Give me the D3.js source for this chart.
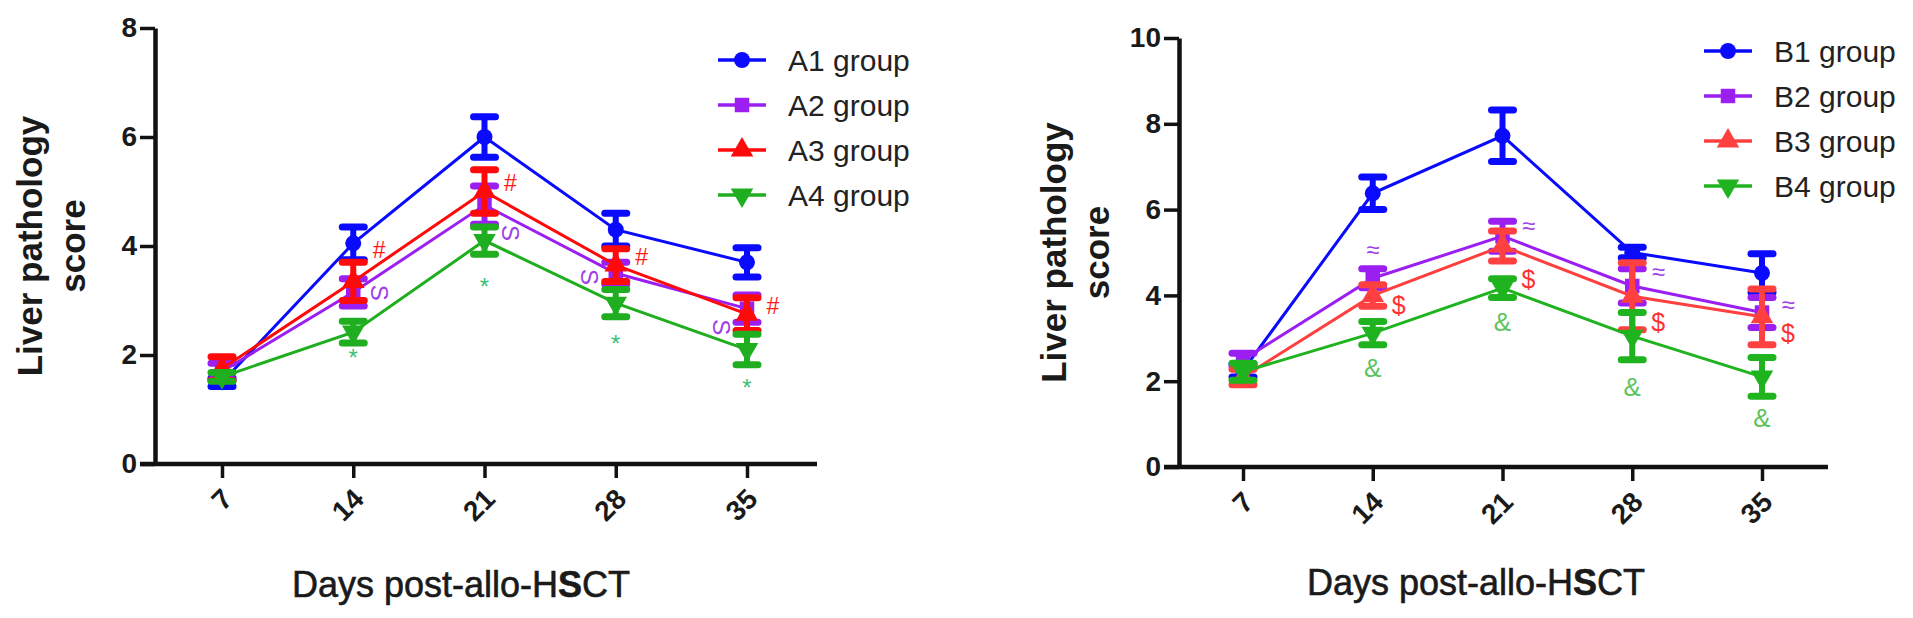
<!DOCTYPE html>
<html>
<head>
<meta charset="utf-8">
<script src="https://cdn.jsdelivr.net/npm/d3@7"></script>
<style>
  body { margin: 0; background: #fff; }
  svg text { font-family: "Liberation Sans", Arial, sans-serif; }
</style>
</head>
<body>
<svg id="fig" width="1913" height="618"></svg>
<script>
// dados
const dias = [7, 14, 21, 28, 35];

const gruposA = ["A1 group", "A2 group", "A3 group", "A4 group"];
const mediaA1 = [1.50, 4.05, 6.00, 4.30, 3.70];
const mediaA2 = [1.70, 3.15, 4.75, 3.50, 2.85];
const mediaA3 = [1.75, 3.35, 5.00, 3.65, 2.75];
const mediaA4 = [1.60, 2.42, 4.10, 2.95, 2.10];
const erroA1 = [0.08, 0.30, 0.37, 0.30, 0.27];
const erroA2 = [0.15, 0.25, 0.35, 0.20, 0.25];
const erroA3 = [0.22, 0.35, 0.40, 0.30, 0.30];
const erroA4 = [0.08, 0.20, 0.25, 0.25, 0.28];

const gruposB = ["B1 group", "B2 group", "B3 group", "B4 group"];
const mediaB1 = [2.25, 6.38, 7.72, 5.00, 4.52];
const mediaB2 = [2.50, 4.40, 5.38, 4.22, 3.60];
const mediaB3 = [2.10, 4.00, 5.15, 3.98, 3.50];
const mediaB4 = [2.22, 3.12, 4.17, 3.05, 2.10];
const erroB1 = [0.15, 0.38, 0.60, 0.12, 0.45];
const erroB2 = [0.15, 0.22, 0.35, 0.40, 0.35];
const erroB3 = [0.18, 0.25, 0.35, 0.78, 0.65];
const erroB4 = [0.20, 0.27, 0.22, 0.55, 0.45];

const ticksA = [0, 2, 4, 6, 8];
const ticksB = [0, 2, 4, 6, 8, 10];

// marcas de significancia: dia, valor (posicao no eixo y), lado (-1 esq, 0 centro, 1 dir)
const marcasA = [
  { simbolo: "#", grupo: 2, dia: [14, 21, 28, 35], valor: [3.93, 5.16, 3.80, 2.90], lado: [1, 1, 1, 1] },
  { simbolo: "S", grupo: 1, dia: [14, 21, 28, 35], valor: [3.14, 4.24, 3.43, 2.51], lado: [1, 1, -1, -1] },
  { simbolo: "*", grupo: 3, dia: [14, 21, 28, 35], valor: [1.96, 3.25, 2.22, 1.41], lado: [0, 0, 0, 0] }
];
const marcasB = [
  { simbolo: "≈", grupo: 1, dia: [14, 21, 28, 35], valor: [5.06, 5.62, 4.55, 3.78], lado: [0, 1, 1, 1] },
  { simbolo: "$", grupo: 2, dia: [14, 21, 28, 35], valor: [3.78, 4.38, 3.38, 3.12], lado: [1, 1, 1, 1] },
  { simbolo: "&", grupo: 3, dia: [14, 21, 28, 35], valor: [2.31, 3.38, 1.86, 1.14], lado: [0, 0, 0, 0] }
];

const $svg = d3.select("#fig");

const simbolos = [
  d3.symbol().type(d3.symbolCircle).size(200),
  d3.symbol().type(d3.symbolSquare).size(210),
  d3.symbol().type(d3.symbolTriangle).size(220),
  d3.symbol().type(d3.symbolTriangle).size(220)
];
const rotacao = [0, 0, 0, 180];

const painelA = {
  nomes: gruposA,
  medias: [mediaA1, mediaA2, mediaA3, mediaA4],
  erros: [erroA1, erroA2, erroA3, erroA4],
  ticks: ticksA, ymax: 8,
  cores: ["#0a0aff", "#9b1ff0", "#ff0a0a", "#1fae1f"],
  corMarca: ["#ff1a1a", "#a040e8", "#3cbf7a"],
  marcas: marcasA,
  x0: 155, x1: 817, xa: 222, xb: 747, y0: 464, y1: 28,
  tituloX: 461, tituloY: 597, tituloYx: [42, 85], legX: 718, legY: 60,
  fonteMarca: ["23px", "24px", "24px"]
};

const painelB = {
  nomes: gruposB,
  medias: [mediaB1, mediaB2, mediaB3, mediaB4],
  erros: [erroB1, erroB2, erroB3, erroB4],
  ticks: ticksB, ymax: 10,
  cores: ["#0a0aff", "#9b1ff0", "#ff4040", "#1fb41f"],
  corMarca: ["#a040e8", "#ff3030", "#5cc45c"],
  marcas: marcasB,
  x0: 1179, x1: 1828, xa: 1243, xb: 1762, y0: 467, y1: 38,
  tituloX: 1476, tituloY: 595, tituloYx: [1066, 1109], legX: 1704, legY: 51,
  fonteMarca: ["24px", "25px", "26px"]
};

const desenha = function(p) {
  const g = $svg.append("g");

  const x = d3.scaleLinear().domain([7, 35]).range([p.xa, p.xb]);
  const y = d3.scaleLinear().domain([0, p.ymax]).range([p.y0, p.y1]);

  // eixo y
  const eixoY = g.append("g")
    .attr("transform", `translate(${p.x0},0)`)
    .call(d3.axisLeft(y).tickValues(p.ticks).tickSize(15).tickSizeOuter(0).tickPadding(3));
  eixoY.select(".domain").attr("stroke", "#111").attr("stroke-width", 4.5);
  eixoY.selectAll(".tick line").attr("stroke", "#111").attr("stroke-width", 3.5);
  eixoY.selectAll(".tick text")
    .style("font-size", "28px").style("font-weight", "bold")
    .style("fill", "#1a1a1a");

  // eixo x
  const eixoX = g.append("g")
    .attr("transform", `translate(0,${p.y0})`)
    .call(d3.axisBottom(x).tickValues(dias).tickSize(14).tickSizeOuter(0));
  eixoX.select(".domain").remove();
  eixoX.selectAll(".tick line").attr("stroke", "#111").attr("stroke-width", 3.5);
  eixoX.selectAll(".tick text")
    .style("font-size", "28px").style("font-weight", "bold")
    .style("fill", "#1a1a1a")
    .attr("text-anchor", "end")
    .attr("dominant-baseline", "central")
    .attr("dy", null)
    .attr("y", 0)
    .attr("transform", "translate(5,30) rotate(-45)");
  g.append("line")
    .attr("x1", p.x0 - 15).attr("x2", p.x1)
    .attr("y1", p.y0).attr("y2", p.y0)
    .attr("stroke", "#111").attr("stroke-width", 4.5);

  // titulos
  const tx = g.append("text")
    .attr("x", p.tituloX).attr("y", p.tituloY)
    .attr("text-anchor", "middle")
    .style("font-size", "36px")
    .style("fill", "#1a1a1a")
    .attr("stroke", "#1a1a1a").attr("stroke-width", 0.6);
  tx.append("tspan").text("Days post-allo-H");
  tx.append("tspan").style("font-weight", "bold").text("S");
  tx.append("tspan").text("CT");

  const cy = (p.y0 + p.y1) / 2;
  ["Liver pathology", "score"].forEach(function(t, i) {
    g.append("text")
      .attr("transform", `translate(${p.tituloYx[i]},${cy}) rotate(-90)`)
      .attr("text-anchor", "middle")
      .style("font-size", "35px").style("font-weight", "bold")
      .style("fill", "#1a1a1a")
      .text(t);
  });

  // series
  p.medias.forEach(function(med, k) {
    const cor = p.cores[k];
    const pts = dias.map((d, i) => ({ dia: d, m: med[i], e: p.erros[k][i] }));
    const gs = g.append("g");

    gs.append("path")
      .datum(pts)
      .attr("fill", "none")
      .attr("stroke", cor)
      .attr("stroke-width", 3)
      .attr("d", d3.line().x(d => x(d.dia)).y(d => y(d.m)));

    gs.selectAll("line.haste").data(pts).enter().append("line")
      .attr("x1", d => x(d.dia)).attr("x2", d => x(d.dia))
      .attr("y1", d => y(d.m - d.e)).attr("y2", d => y(d.m + d.e))
      .attr("stroke", cor).attr("stroke-width", 6);

    [1, -1].forEach(function(s) {
      gs.selectAll(null).data(pts).enter().append("line")
        .attr("x1", d => x(d.dia) - 11).attr("x2", d => x(d.dia) + 11)
        .attr("y1", d => y(d.m + s * d.e)).attr("y2", d => y(d.m + s * d.e))
        .attr("stroke", cor).attr("stroke-width", 7).attr("stroke-linecap", "round");
    });

    gs.selectAll("path.ponto").data(pts).enter().append("path")
      .attr("d", simbolos[k])
      .attr("transform", d => `translate(${x(d.dia)},${y(d.m)}) rotate(${rotacao[k]})`)
      .attr("fill", cor);
  });

  // marcas de significancia
  p.marcas.forEach(function(mc, j) {
    mc.dia.forEach(function(d, i) {
      const t = g.append("text")
        .attr("text-anchor", "middle")
        .attr("dominant-baseline", "central")
        .style("font-size", p.fonteMarca[j])
        .style("fill", p.corMarca[j])
        .text(mc.simbolo);
      const px = x(d) + mc.lado[i] * 26;
      const py = y(mc.valor[i]);
      if (mc.simbolo === "S") {
        t.attr("transform", `translate(${px},${py}) rotate(90)`);
      } else {
        t.attr("x", px).attr("y", py);
      }
    });
  });

  // legenda
  p.nomes.forEach(function(nome, k) {
    const ly = p.legY + k * 45;
    const lg = g.append("g").attr("transform", `translate(${p.legX},${ly})`);
    lg.append("line").attr("x1", 0).attr("x2", 48).attr("y1", 0).attr("y2", 0)
      .attr("stroke", p.cores[k]).attr("stroke-width", 3.5);
    lg.append("path")
      .attr("d", simbolos[k])
      .attr("transform", `translate(24,0) rotate(${rotacao[k]})`)
      .attr("fill", p.cores[k]);
    lg.append("text")
      .attr("x", 70).attr("y", 0)
      .attr("dominant-baseline", "central")
      .style("font-size", "30px")
      .style("fill", "#222")
      .text(nome);
  });
};

desenha(painelA);
desenha(painelB);
</script>
</body>
</html>
